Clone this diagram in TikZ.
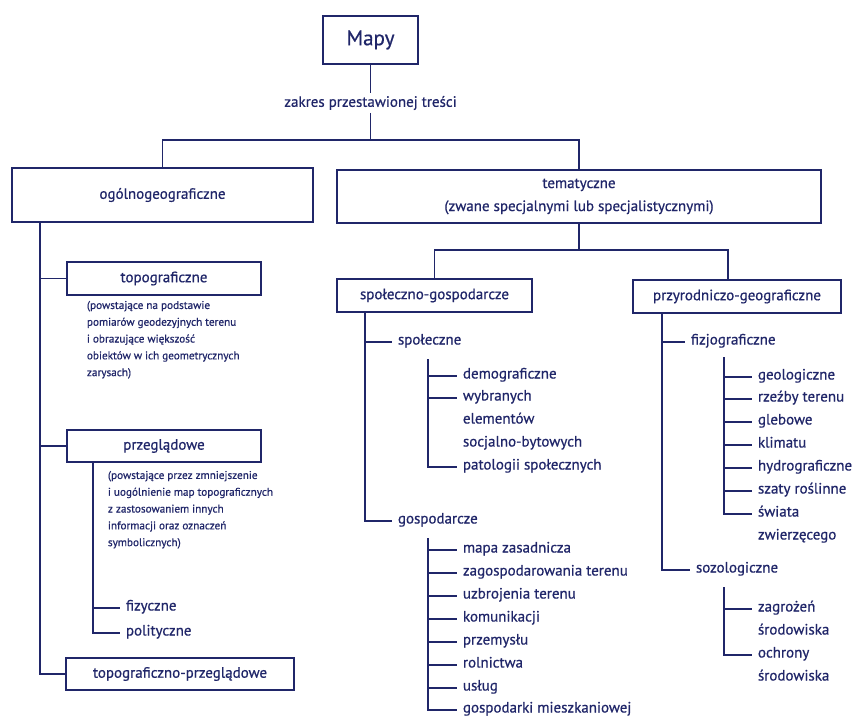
\documentclass[tikz,border=0pt]{standalone}
\usepackage{fontspec}
\setmainfont{PT Sans}[FakeBold=0.6]
\usetikzlibrary{calc}
\definecolor{ink}{RGB}{32,38,105}
\begin{document}
\begin{tikzpicture}[x=1pt,y=-1pt, color=ink, line width=1.9pt,
  box/.style={draw=ink, line width=1.9pt, inner sep=0pt, text=ink, font=\fontsize{15}{23}\selectfont, align=center},
  item/.style={anchor=west, inner xsep=5pt, inner ysep=0pt, text=ink, font=\fontsize{15}{18}\selectfont, text height=0.75em, text depth=0.25em},
  desc/.style={anchor=north west, inner sep=0pt, text=ink, font=\fontsize{11.2}{16.8}\selectfont, align=left},
  lbl/.style={fill=white, inner sep=2pt, text=ink, font=\fontsize{15}{18}\selectfont}]
\clip (0,0) rectangle (854,720);
\fill[white] (0,0) rectangle (854,720);

% boxes
\node[box, minimum width=95pt, minimum height=48pt, font=\fontsize{21}{24}\selectfont] (mapy) at (370.5,40) {Mapy};
\node[box, minimum width=301pt, minimum height=54pt] (ogol) at (162.5,195) {ogólnogeograficzne};
\node[box, minimum width=484pt, minimum height=53pt] (tem) at (579,196.5) {tematyczne\\(zwane specjalnymi lub specjalistycznymi)};
\node[box, minimum width=194pt, minimum height=33pt] (topo) at (164,278.5) {topograficzne};
\node[box, minimum width=194pt, minimum height=32pt] (przeg) at (164,446) {przeglądowe};
\node[box, minimum width=228pt, minimum height=32pt] (tprz) at (180,674) {topograficzno-przeglądowe};
\node[box, minimum width=195pt, minimum height=33pt] (spol) at (434.5,295.5) {społeczno-gospodarcze};
\node[box, minimum width=208pt, minimum height=33pt] (przyr) at (737,296.5) {przyrodniczo-geograficzne};

% top connectors
\node[lbl] (zak) at (370.5,103) {zakres przestawionej treści};
\coordinate (j1) at (370.5,140);
\draw (mapy.south) -- (zak.north);
\draw (zak.south) -- (j1);
\draw (ogol.north) |- (j1) -| (tem.north);
\coordinate (j2) at (579,250);
\coordinate (pt) at (728,280);
\draw (tem.south) -- (j2);
\draw (spol.north) |- (j2) -| (pt);

% left column
\coordinate (ot) at (40,222);
\draw (ot) |- (tprz.west);
\draw (topo.west -| ot) -- (topo.west);
\draw (przeg.west -| ot) -- (przeg.west);
\node[desc] (topod) at (86,300) {(powstające na podstawie\\pomiarów geodezyjnych terenu\\i obrazujące większość\\obiektów w ich geometrycznych\\zarysach)};
\node[desc] (przegd) at (107,470) {(powstające przez zmniejszenie\\i uogólnienie map topograficznych\\z zastosowaniem innych\\informacji oraz oznaczeń\\symbolicznych)};
\coordinate (pt2) at (93,462);
\node[item] (fiz) at (120,608) {fizyczne};
\node[item] (pol) at (120,633) {polityczne};
\draw (pt2) |- (pol.west);
\draw (fiz.west -| pt2) -- (fiz.west);

% middle column
\coordinate (st) at (365,312);
\node[item] (spo) at (392,342) {społeczne};
\node[item] (gos) at (392,521) {gospodarcze};
\draw (st) |- (gos.west);
\draw (spo.west -| st) -- (spo.west);

\coordinate (s1) at (428,359);
\node[item] (dem) at (457,376) {demograficzne};
\node[item] (wyb) at (457,398) {wybranych};
\node[item] (ele) at (457,421) {elementów};
\node[item] (soc) at (457,444) {socjalno-bytowych};
\node[item] (pat) at (457,467) {patologii społecznych};
\draw (s1) |- (pat.west);
\draw (dem.west -| s1) -- (dem.west);
\draw (wyb.west -| s1) -- (wyb.west);

\coordinate (g1) at (428,538);
\node[item] (g_a) at (457,550) {mapa zasadnicza};
\node[item] (g_b) at (457,573) {zagospodarowania terenu};
\node[item] (g_c) at (457,596) {uzbrojenia terenu};
\node[item] (g_d) at (457,619) {komunikacji};
\node[item] (g_e) at (457,642) {przemysłu};
\node[item] (g_f) at (457,665) {rolnictwa};
\node[item] (g_g) at (457,688) {usług};
\node[item] (g_h) at (457,710) {gospodarki mieszkaniowej};
\draw (g1) |- (g_h.west);
\foreach \n in {g_a,g_b,g_c,g_d,g_e,g_f,g_g} \draw (\n.west -| g1) -- (\n.west);

% right column
\coordinate (rt) at (662,313);
\node[item] (fzj) at (685,342) {fizjograficzne};
\node[item] (soz) at (690,570) {sozologiczne};
\draw (rt) |- (soz.west);
\draw (fzj.west -| rt) -- (fzj.west);

\coordinate (f1) at (724,357);
\node[item] (f_a) at (752,377) {geologiczne};
\node[item] (f_b) at (752,399) {rzeźby terenu};
\node[item] (f_c) at (752,422) {glebowe};
\node[item] (f_d) at (752,445) {klimatu};
\node[item] (f_e) at (752,468) {hydrograficzne};
\node[item] (f_f) at (752,491) {szaty roślinne};
\node[item] (f_g) at (752,514) {świata};
\node[item] (f_h) at (752,537) {zwierzęcego};
\draw (f1) |- (f_g.west);
\foreach \n in {f_a,f_b,f_c,f_d,f_e,f_f} \draw (\n.west -| f1) -- (\n.west);

\coordinate (z1) at (724,587);
\node[item] (z_a) at (752,609) {zagrożeń};
\node[item] (z_b) at (752,632) {środowiska};
\node[item] (z_c) at (752,655) {ochrony};
\node[item] (z_d) at (752,678) {środowiska};
\draw (z1) |- (z_c.west);
\draw (z_a.west -| z1) -- (z_a.west);
\end{tikzpicture}
\end{document}
